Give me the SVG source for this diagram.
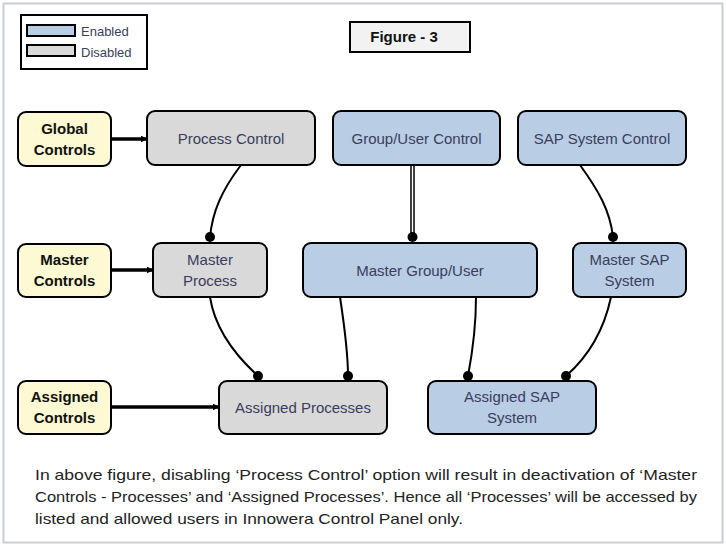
<svg xmlns="http://www.w3.org/2000/svg" width="726" height="546" viewBox="0 0 726 546">
<style>
.n{stroke:#000;stroke-width:2}
.dis{fill:#d9d9d9}
.en{fill:#b9cde5}
.ctl{fill:#fcf9d3}
.t{font-family:"Liberation Sans",Arial,sans-serif;font-size:15px;fill:#3a3d5c;text-anchor:middle}
.b{font-family:"Liberation Sans",Arial,sans-serif;font-size:15px;font-weight:bold;fill:#111;text-anchor:middle}
.c{fill:none;stroke:#000;stroke-width:2}
.a{fill:none;stroke:#000;stroke-width:3.5;marker-end:url(#ah)}
.p{font-family:"Liberation Sans",Arial,sans-serif;font-size:15px;fill:#222}
</style>
<defs>
<marker id="ah" viewBox="0 0 10 10" refX="9" refY="5" markerWidth="2" markerHeight="2" orient="auto"><path d="M0,0 L10,5 L0,10 z" fill="#000"/></marker>
</defs>
<rect x="0" y="0" width="726" height="546" fill="#fff"/>
<rect x="3.5" y="3.5" width="719" height="539" fill="#fff" stroke="#c9ced6" stroke-width="2"/>
<g id="legend">
<rect x="21" y="15" width="126" height="54" fill="#fff" stroke="#000" stroke-width="2"/>
<rect x="27" y="25" width="48" height="11" class="en" stroke="#000" stroke-width="2"/>
<rect x="27" y="45" width="48" height="11" class="dis" stroke="#000" stroke-width="2"/>
<text x="81" y="36" font-family="Liberation Sans,Arial,sans-serif" font-size="13" fill="#3a3d5c">Enabled</text>
<text x="81" y="57" font-family="Liberation Sans,Arial,sans-serif" font-size="13" fill="#3a3d5c">Disabled</text>
</g>
<g id="figure-title">
<rect x="350" y="22" width="120" height="30" fill="#f2f2f2" stroke="#000" stroke-width="2"/>
<text x="404" y="42" class="b" font-size="14">Figure - 3</text>
</g>
<g id="connectors">
<line x1="111" y1="139" x2="147" y2="139" class="a"/>
<line x1="111" y1="270" x2="153" y2="270" class="a"/>
<line x1="111" y1="407" x2="219" y2="407" class="a"/>
<path d="M241,165 C222,190 212,212 210,238" class="c"/>
<circle cx="210" cy="237" r="5"/>
<line x1="411" y1="165" x2="411" y2="237" stroke="#000" stroke-width="1.5"/>
<line x1="414" y1="165" x2="414" y2="237" stroke="#000" stroke-width="1.5"/>
<circle cx="412.5" cy="237" r="5"/>
<path d="M580,165 C598,190 610,210 613,237" class="c"/>
<circle cx="613" cy="237" r="5"/>
<path d="M210,297 C215,330 235,355 258,376" class="c"/>
<circle cx="258" cy="376" r="5"/>
<path d="M340,297 C345,330 348,355 348,376" class="c"/>
<circle cx="348" cy="376" r="5"/>
<path d="M476,297 C476,330 472,355 468,376" class="c"/>
<circle cx="468" cy="376" r="5"/>
<path d="M611,297 C604,330 590,355 566,376" class="c"/>
<circle cx="566" cy="376" r="5"/>
</g>
<g id="global-controls">
<rect x="18" y="112" width="93" height="54" rx="8" class="n ctl"/>
<text x="64.5" y="134" class="b">Global</text>
<text x="64.5" y="155" class="b">Controls</text>
</g>
<g id="process-control">
<rect x="147" y="111" width="168" height="54" rx="8" class="n dis"/>
<text x="231" y="144" class="t">Process Control</text>
</g>
<g id="group-user-control">
<rect x="333" y="111" width="167" height="54" rx="8" class="n en"/>
<text x="416.5" y="144" class="t">Group/User Control</text>
</g>
<g id="sap-system-control">
<rect x="518" y="111" width="168" height="54" rx="8" class="n en"/>
<text x="602" y="144" class="t">SAP System Control</text>
</g>
<g id="master-controls">
<rect x="18" y="244" width="93" height="53" rx="8" class="n ctl"/>
<text x="64.5" y="265" class="b">Master</text>
<text x="64.5" y="286" class="b">Controls</text>
</g>
<g id="master-process">
<rect x="153" y="243" width="114" height="54" rx="8" class="n dis"/>
<text x="210" y="265" class="t">Master</text>
<text x="210" y="286" class="t">Process</text>
</g>
<g id="master-group-user">
<rect x="303" y="243" width="234" height="54" rx="8" class="n en"/>
<text x="420" y="276" class="t">Master Group/User</text>
</g>
<g id="master-sap-system">
<rect x="573" y="243" width="113" height="54" rx="8" class="n en"/>
<text x="629.5" y="265" class="t">Master SAP</text>
<text x="629.5" y="286" class="t">System</text>
</g>
<g id="assigned-controls">
<rect x="18" y="381" width="93" height="53" rx="8" class="n ctl"/>
<text x="64.5" y="402" class="b">Assigned</text>
<text x="64.5" y="423" class="b">Controls</text>
</g>
<g id="assigned-processes">
<rect x="219" y="381" width="168" height="53" rx="8" class="n dis"/>
<text x="303" y="413" class="t">Assigned Processes</text>
</g>
<g id="assigned-sap-system">
<rect x="428" y="381" width="168" height="53" rx="8" class="n en"/>
<text x="512" y="402" class="t">Assigned SAP</text>
<text x="512" y="423" class="t">System</text>
</g>
<g id="caption">
<text x="35" y="480" class="p" textLength="662" lengthAdjust="spacingAndGlyphs">In above figure, disabling ‘Process Control’ option will result in deactivation of ‘Master</text>
<text x="35" y="502" class="p" textLength="662" lengthAdjust="spacingAndGlyphs">Controls -  Processes’ and ‘Assigned Processes’. Hence all ‘Processes’ will be accessed by</text>
<text x="35" y="524" class="p" textLength="428" lengthAdjust="spacingAndGlyphs">listed and allowed users in Innowera Control Panel only.</text>
</g>
</svg>
